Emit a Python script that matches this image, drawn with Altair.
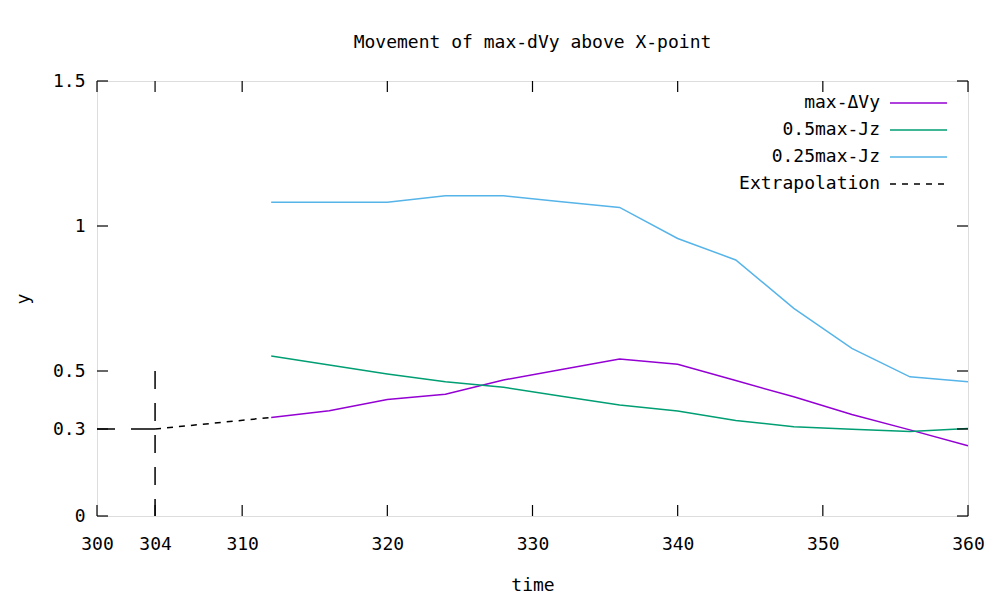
import altair as alt
import pandas as pd

# ---- data ----
times = [312, 316, 320, 324, 328, 332, 336, 340, 344, 348, 352, 356, 360]
max_dvy = [0.340, 0.363, 0.402, 0.420, 0.469, 0.505, 0.541, 0.523, 0.467, 0.411, 0.350, 0.297, 0.242]
half_jz = [0.552, 0.521, 0.490, 0.463, 0.444, 0.413, 0.383, 0.362, 0.329, 0.308, 0.299, 0.291, 0.302]
quarter_jz = [1.082, 1.082, 1.082, 1.104, 1.104, 1.084, 1.064, 0.957, 0.883, 0.716, 0.578, 0.480, 0.463]

series_names = ["max-ΔVy", "0.5max-Jz", "0.25max-Jz"]
series_colors = ["#9400d3", "#009e73", "#56b4e9"]

ext_time = [304, 312]
ext_y = [0.30, 0.340]

guide_time = 304          # vertical guide
guide_y = 0.3             # horizontal guide
guide_top = 0.5
x_start = 300

x_ticks = [300, 304, 310, 320, 330, 340, 350, 360]
y_ticks = [0, 0.3, 0.5, 1, 1.5]

FONT = "DejaVu Sans Mono"
FS = 18
W, H = 871, 435
TICK = 11

rows = []
for name, vals in zip(series_names, [max_dvy, half_jz, quarter_jz]):
    for t, v in zip(times, vals):
        rows.append({"time": t, "y": v, "series": name})
df = pd.DataFrame(rows)

xscale = alt.Scale(domain=[300, 360], nice=False, zero=False)
yscale = alt.Scale(domain=[0, 1.5], nice=False)

xaxis = alt.Axis(values=x_ticks, ticks=False, tickSize=0, domain=False, grid=False,
                 labelPadding=19, labelFontSize=FS, labelFont=FONT, labelColor="black",
                 title="time", titleFont=FONT, titleFontSize=FS, titleFontWeight="normal",
                 titlePadding=23, titleColor="black", labelFlush=False)
yaxis = alt.Axis(values=y_ticks, ticks=False, tickSize=0, domain=False, grid=False,
                 format="~g", labelPadding=12, labelFontSize=FS, labelFont=FONT,
                 labelColor="black", title="y", titleFont=FONT, titleFontSize=FS,
                 titleFontWeight="normal", titlePadding=20, titleColor="black")

lines = alt.Chart(df).mark_line(strokeWidth=1.5).encode(
    x=alt.X("time:Q", scale=xscale, axis=xaxis),
    y=alt.Y("y:Q", scale=yscale, axis=yaxis),
    color=alt.Color("series:N", scale=alt.Scale(domain=series_names, range=series_colors), legend=None),
)

ext = alt.Chart(pd.DataFrame({"time": ext_time, "y": ext_y})).mark_line(
    strokeWidth=1.5, strokeDash=[6, 6], color="black").encode(
    x=alt.X("time:Q", scale=xscale), y=alt.Y("y:Q", scale=yscale))

vguide = alt.Chart(pd.DataFrame({"time": [guide_time], "y": [guide_top], "y2": [0]})).mark_rule(
    strokeWidth=1.5, strokeDash=[18, 14], color="black").encode(
    x="time:Q", y="y:Q", y2="y2:Q")

hguide = alt.Chart(pd.DataFrame({"time": [x_start], "time2": [guide_time], "y": [guide_y]})).mark_rule(
    strokeWidth=1.5, strokeDash=[18, 16, 26, 10], color="black").encode(
    x="time:Q", x2="time2:Q", y="y:Q")

xt = pd.DataFrame({"time": x_ticks})
yt = pd.DataFrame({"y": y_ticks})
tick_bottom = alt.Chart(xt).mark_rule(color="black", strokeWidth=1.2).encode(
    x="time:Q", y=alt.value(H), y2=alt.value(H - TICK))
tick_top = alt.Chart(xt).mark_rule(color="black", strokeWidth=1.2).encode(
    x="time:Q", y=alt.value(0), y2=alt.value(TICK))
tick_left = alt.Chart(yt).mark_rule(color="black", strokeWidth=1.2).encode(
    y="y:Q", x=alt.value(0), x2=alt.value(TICK))
tick_right = alt.Chart(yt).mark_rule(color="black", strokeWidth=1.2).encode(
    y="y:Q", x=alt.value(W), x2=alt.value(W - TICK))

# legend (gnuplot style: text then sample line)
legend_layers = []
leg_names = series_names + ["Extrapolation"]
leg_colors = series_colors + ["black"]
dummy = pd.DataFrame({"a": [0]})
for i, (nm, col) in enumerate(zip(leg_names, leg_colors)):
    yy = 22 + 27 * i
    legend_layers.append(
        alt.Chart(dummy).mark_text(align="right", baseline="middle", font=FONT, fontSize=FS,
                                   color="black", text=nm).encode(x=alt.value(783), y=alt.value(yy)))
    rule = alt.Chart(dummy).mark_rule(color=col, strokeWidth=1.5,
                                      **({"strokeDash": [6, 6]} if nm == "Extrapolation" else {}))
    legend_layers.append(rule.encode(x=alt.value(793), x2=alt.value(850), y=alt.value(yy)))

chart = alt.layer(
    lines, ext, vguide, hguide, tick_bottom, tick_top, tick_left, tick_right, *legend_layers
).properties(
    width=W, height=H,
    title=alt.TitleParams("Movement of max-dVy above X-point", font=FONT, fontSize=FS,
                          fontWeight="normal", color="black", offset=20, anchor="middle"),
    autosize=alt.AutoSizeParams(type="none"),
    padding={"left": 89, "top": 73, "right": 20, "bottom": 84},
).configure_view(stroke="black", strokeWidth=1.2).configure(background="white")

chart.save("out.html", embed_options={"renderer": "svg", "actions": False})
